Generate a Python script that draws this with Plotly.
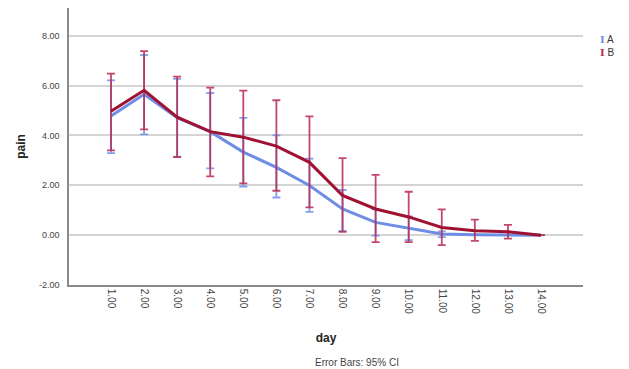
import plotly.graph_objects as go

days = list(range(1, 15))
day_labels = ["1.00", "2.00", "3.00", "4.00", "5.00", "6.00", "7.00",
              "8.00", "9.00", "10.00", "11.00", "12.00", "13.00", "14.00"]

A_mean = [4.78, 5.65, 4.71, 4.15, 3.33, 2.72, 1.99, 1.05, 0.51, 0.28, 0.05, 0.02, 0.01, 0.0]
A_lo = [3.29, 4.04, 3.15, 2.68, 1.95, 1.51, 0.93, 0.17, -0.02, -0.20, -0.08, None, None, None]
A_hi = [6.21, 7.22, 6.27, 5.70, 4.70, 4.00, 3.07, 1.81, 1.03, 0.75, 0.15, None, None, None]

B_mean = [4.97, 5.81, 4.73, 4.15, 3.93, 3.57, 2.92, 1.59, 1.05, 0.73, 0.31, 0.18, 0.14, 0.0]
B_lo = [3.40, 4.24, 3.13, 2.36, 2.08, 1.78, 1.11, 0.13, -0.28, -0.28, -0.40, -0.23, -0.14, None]
B_hi = [6.48, 7.38, 6.36, 5.92, 5.80, 5.41, 4.76, 3.09, 2.42, 1.74, 1.03, 0.62, 0.41, None]

y_ticks = [-2, 0, 2, 4, 6, 8]
y_ticktext = ["-2.00", "0.00", "2.00", "4.00", "6.00", "8.00"]


def plus(mean, hi):
    return [None if h is None else h - m for m, h in zip(mean, hi)]


def minus(mean, lo):
    return [None if l is None else m - l for m, l in zip(mean, lo)]


fig = go.Figure()
fig.add_trace(go.Scatter(
    x=days, y=A_mean, mode="lines", name="A",
    line=dict(color="#6E8EE6", width=3),
    error_y=dict(type="data", symmetric=False,
                 array=plus(A_mean, A_hi), arrayminus=minus(A_mean, A_lo),
                 color="rgba(110,145,235,0.85)", thickness=1.8, width=4),
    showlegend=False))
fig.add_trace(go.Scatter(
    x=days, y=B_mean, mode="lines", name="B",
    line=dict(color="#A01232", width=3),
    error_y=dict(type="data", symmetric=False,
                 array=plus(B_mean, B_hi), arrayminus=minus(B_mean, B_lo),
                 color="rgba(185,40,80,0.85)", thickness=1.8, width=4),
    showlegend=False))

legend_text = (
    "<span style='color:#6E8EE6;font-family:DejaVu Serif'><b>I</b></span> A<br>"
    "<span style='color:#B82850;font-family:DejaVu Serif'><b>I</b></span> B"
)

# The page body adds an 8px offset, so the figure is sized to fit inside.
fig.update_layout(
    width=621, height=361,
    margin=dict(l=61, r=46, t=0, b=84),
    paper_bgcolor="white", plot_bgcolor="white",
    font=dict(family="Liberation Sans, Arial, sans-serif", color="#333333", size=9),
    xaxis=dict(
        range=[-0.27, 15.27], tickvals=days, ticktext=day_labels, tickangle=90,
        showgrid=False, zeroline=False, showline=True, linecolor="#8a8a8a", linewidth=1.5,
        ticks="", tickfont=dict(size=10, color="#444444"),
        title=dict(text="<b>day</b>", font=dict(size=12, color="#222222"), standoff=20),
    ),
    yaxis=dict(
        range=[-2, 9.11], tickvals=y_ticks, ticktext=y_ticktext,
        showgrid=True, gridcolor="#d4d4d4", gridwidth=1.5, zeroline=False,
        showline=True, linecolor="#8a8a8a", linewidth=1.5, ticks="",
        ticklabelstandoff=6, tickfont=dict(size=9, color="#444444"),
        title=dict(text="<b>pain</b>", font=dict(size=12, color="#222222"), standoff=11),
    ),
    annotations=[
        dict(xref="paper", yref="paper", x=1.03, y=0.863, xanchor="left", yanchor="middle",
             text=legend_text, align="left",
             showarrow=False, font=dict(size=10, color="#333333")),
        dict(xref="paper", yref="paper", x=0.56, y=-0.278, xanchor="center", yanchor="middle",
             text="Error Bars: 95% CI", showarrow=False, font=dict(size=10, color="#444444")),
    ],
)

fig.write_html("out.html")
